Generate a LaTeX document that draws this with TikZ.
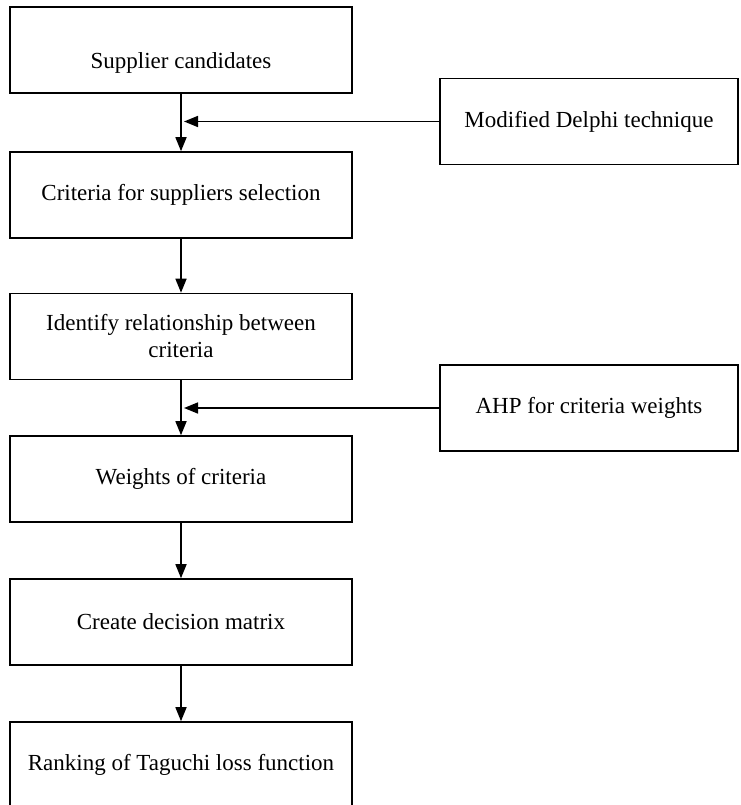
\documentclass[tikz,border=0pt]{standalone}
\usepackage{fontspec}
\setmainfont{Liberation Serif}
\usetikzlibrary{arrows.meta}

\begin{document}
\begin{tikzpicture}[x=1pt, y=-1pt,
  stagebox/.style={draw, line width=1.6pt, minimum width=342pt, minimum height=86pt,
    inner sep=0pt, align=center, font=\fontsize{23}{27}\selectfont},
  toolbox/.style={stagebox, minimum width=298pt},
  flow/.style={line width=1.6pt, -{Triangle[length=14pt,width=11pt]}}]

\newcommand\LX{181}
\newcommand\RX{589}

\useasboundingbox (0,0) rectangle (740,805);

%% main chain
\node[stagebox, text height=42pt] (cand) at (\LX, 50) {Supplier candidates};
\node[stagebox] (crit) at (\LX, 195) {Criteria for suppliers selection};
\node[stagebox] (rel)  at (\LX, 336.5) {Identify relationship between\\criteria};
\node[stagebox] (wgt)  at (\LX, 479) {Weights of criteria};
\node[stagebox] (dmat) at (\LX, 622) {Create decision matrix};
\node[stagebox] (rank) at (\LX, 765) {Ranking of Taguchi loss function};

%% side inputs
\node[toolbox] (delphi) at (\RX, 121.5) {Modified Delphi technique};
\node[toolbox] (ahp)    at (\RX, 408) {AHP for criteria weights};

\coordinate (jd) at ([xshift=3pt]cand.south |- delphi.west);
\coordinate (ja) at ([xshift=3pt]rel.south |- ahp.west);

%%
\draw[flow] (cand) -- (crit);
\draw[flow] (crit) -- (rel);
\draw[flow] (rel) -- (wgt);
\draw[flow] (wgt) -- (dmat);
\draw[flow] (dmat) -- (rank);

%%
\draw[flow] (delphi) -- (jd);
\draw[flow] (ahp) -- (ja);

\end{tikzpicture}
\end{document}
